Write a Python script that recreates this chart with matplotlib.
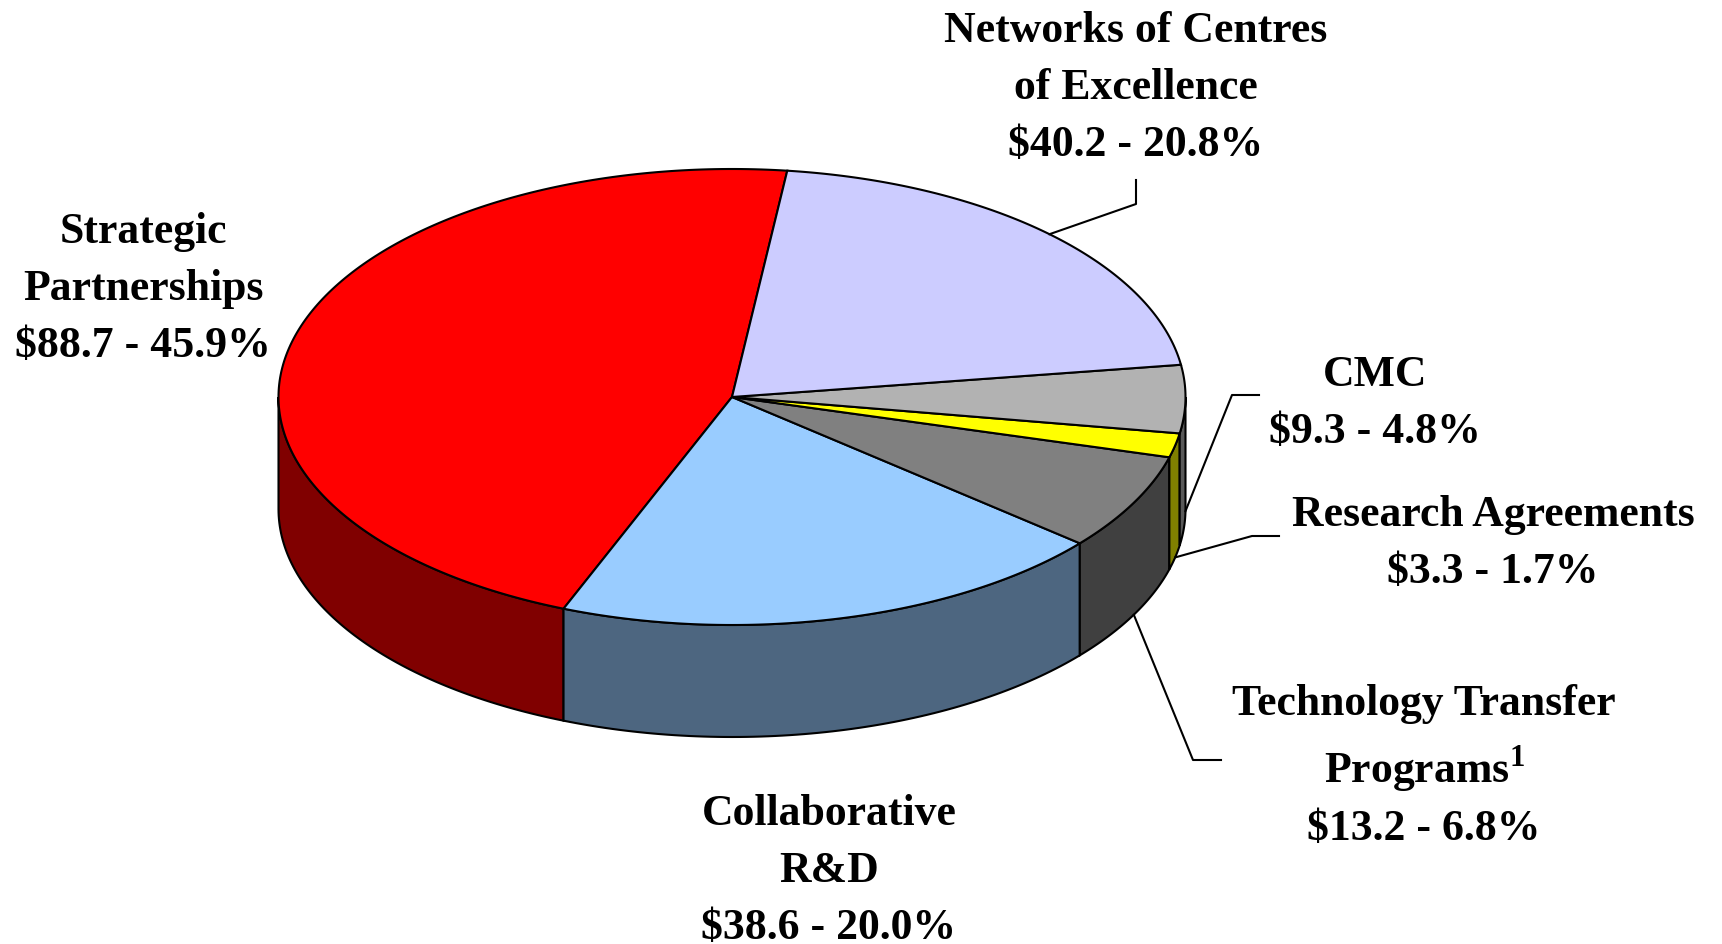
import numpy as np
import matplotlib
matplotlib.use("Agg")
import matplotlib.pyplot as plt
from matplotlib.patches import Polygon
from matplotlib.colors import to_rgb

# slices, counter-clockwise from the top
names = [["Strategic", "Partnerships"],
         ["Collaborative", "R&D"],
         ["Technology Transfer", "Programs$^{1}$"],
         ["Research Agreements"],
         ["CMC"],
         ["Networks of Centres", "of Excellence"]]
amounts = [88.7, 38.6, 13.2, 3.3, 9.3, 40.2]
percents = [45.9, 20.0, 6.8, 1.7, 4.8, 20.8]
colors = ["#FF0000", "#99CCFF", "#808080", "#FFFF00", "#B2B2B2", "#CCCCFF"]

# layout (pixels)
cx, cy, rx, ry, depth = 732, 398, 453.5, 228, 112
start = 83.0
# label centre x and first baseline y, line step
label_pos = [(143, 243, 57), (829, 825, 57), (1424, 715, 68), (1493, 526, 57),
             (1375, 386, 57), (1136, 42, 57)]
# leader elbow and end points, None = no leader
leaders = [None, None, [(1193, 761), (1221, 761)], [(1252, 537), (1279, 537)],
           [(1232, 396), (1259, 396)], [(1136, 205), (1136, 181)]]

plt.rcParams['mathtext.fontset'] = 'custom'
plt.rcParams['mathtext.rm'] = 'Liberation Serif:bold'
plt.rcParams['mathtext.bf'] = 'Liberation Serif:bold'
font = dict(family=['Liberation Serif', 'DejaVu Serif'], weight='bold', size=31.5)
lw = 1.5

fig = plt.figure(figsize=(17.22, 9.45), dpi=100)
ax = fig.add_axes([0, 0, 1, 1])
ax.set_xlim(0, 1722)
ax.set_ylim(945, 0)
ax.axis('off')


def pt(a, dz=0):
    r = np.radians(a)
    return cx + rx * np.cos(r), cy - ry * np.sin(r) + dz


fr = np.array(amounts) / sum(amounts)
edges = start + 360 * np.concatenate([[0], np.cumsum(fr)])

# side walls (front half only)
for i in range(len(amounts)):
    a0, a1 = edges[i], edges[i + 1]
    dark = tuple(c * 0.5 for c in to_rgb(colors[i]))
    for w0, w1 in [(180, 360), (540, 720)]:
        lo, hi = max(a0, w0), min(a1, w1)
        if hi <= lo:
            continue
        t = np.linspace(lo, hi, 80)
        top = [pt(a) for a in t]
        bot = [pt(a, depth) for a in t[::-1]]
        ax.add_patch(Polygon(top + bot, closed=True, fc=dark, ec='black', lw=lw, zorder=2))

# top faces
for i in range(len(amounts)):
    t = np.linspace(edges[i], edges[i + 1], 200)
    verts = [(cx, cy)] + [pt(a) for a in t]
    ax.add_patch(Polygon(verts, closed=True, fc=colors[i], ec='black', lw=lw, zorder=3))

# labels
for i in range(len(amounts)):
    x, y0, step = label_pos[i]
    lines = names[i] + ["$%.1f - %.1f%%" % (amounts[i], percents[i])]
    for j, s in enumerate(lines):
        y = y0 + j * step
        if j == len(lines) - 1 and i == 2:
            y = y0 + step + 57
        ax.text(x, y, s, ha='center', va='baseline', parse_math=('$^' in s),
                zorder=5, **font)

# leader lines
for i in range(len(amounts)):
    if leaders[i] is None:
        continue
    mid = (edges[i] + edges[i + 1]) / 2
    m = mid % 360
    anchor = pt(mid, depth if m > 180 else 0)
    xs = [anchor[0]] + [p[0] for p in leaders[i]]
    ys = [anchor[1]] + [p[1] for p in leaders[i]]
    ax.plot(xs, ys, color='black', lw=lw, zorder=4)

fig.savefig("out.png", dpi=100)
